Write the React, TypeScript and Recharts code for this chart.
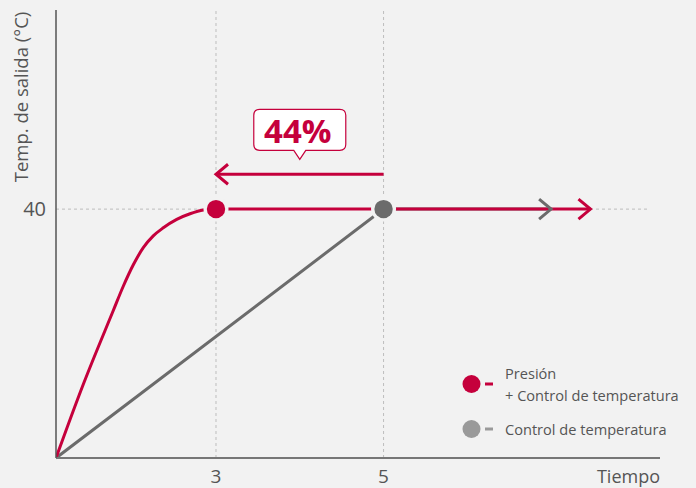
import React from 'react';
import { ComposedChart, Line, XAxis, YAxis, ReferenceLine, ReferenceDot, Label } from 'recharts';

// ejes
const tiempoTicks = [3, 5];
const tempTicks = [40];
const tiempoDomain = [1.09, 8.3];
const tempDomain = [0, 72];

// Presión + Control de temperatura
const presionT = [1.09, 1.416, 1.774, 1.893, 2.013, 2.132, 2.251, 2.371, 2.531, 2.69, 2.848, 3, 7.47];
const presionTemp = [0, 11.85, 23.7, 27.6, 31.05, 33.8, 35.7, 37.0, 38.35, 39.25, 39.85, 40, 40];

// Control de temperatura
const controlT = [1.09, 5, 7.0];
const controlTemp = [0, 40, 40];

// flecha de ahorro
const ahorroT = [5, 3];
const ahorroTemp = [45.6, 45.6];
const ahorroLabel = '44%';
const ahorroPos = { t: 4, temp: 48 };

const RED = '#c5003c';
const GRAY = '#6b6b6b';
const BG = '#f2f2f2';
const TEXT = '#555555';
const FONT = '"Open Sans", sans-serif';

const presionData = presionT.map((t, i) => ({ t, temp: presionTemp[i] }));
const presionDotIdx = presionT.indexOf(3);
const controlData = controlT.map((t, i) => ({ t, temp: controlTemp[i] }));
const controlDot = [{ t: controlT[1], temp: controlTemp[1] }];
const ahorroData = ahorroT.map((t, i) => ({ t, temp: ahorroTemp[i] }));

const bigDot = (cx: number, cy: number, fill: string, key: string) => (
  <g key={key}>
    <circle cx={cx} cy={cy} r={12.5} fill={BG} />
    <circle cx={cx} cy={cy} r={9.2} fill={fill} />
  </g>
);

const chevronRight = (cx: number, cy: number, stroke: string, key: string) => (
  <path key={key} d={`M${cx - 12},${cy - 10} L${cx},${cy} L${cx - 12},${cy + 10}`} fill="none" stroke={stroke} strokeWidth={3} />
);

const chevronLeft = (cx: number, cy: number, stroke: string, key: string) => (
  <path key={key} d={`M${cx + 12},${cy - 10} L${cx},${cy} L${cx + 12},${cy + 10}`} fill="none" stroke={stroke} strokeWidth={3} />
);

function Callout(props: any) {
  const { cx, cy } = props;
  const L = cx - 46, R = cx + 46, T = cy - 50, B = cy - 9, r = 6;
  const d = `M${L + r},${T} H${R - r} Q${R},${T} ${R},${T + r} V${B - r} Q${R},${B} ${R - r},${B} H${cx + 6} L${cx},${cy} L${cx - 6},${B} H${L + r} Q${L},${B} ${L},${B - r} V${T + r} Q${L},${T} ${L + r},${T} Z`;
  return (
    <g>
      <path d={d} fill="#ffffff" stroke={RED} strokeWidth={1.2} />
      <text x={cx - 2} y={cy - 16} textAnchor="middle" fill={RED} fontSize={33} fontWeight={700} fontFamily={FONT}>
        {ahorroLabel}
      </text>
    </g>
  );
}

export default function App() {
  return (
    <div style={{ position: 'fixed', left: 0, top: 0, width: 696, height: 488, background: BG, fontFamily: FONT }}>
      <ComposedChart width={696} height={488} margin={{ top: 10, right: 36, bottom: 0, left: 0 }}>
        <XAxis
          type="number"
          dataKey="t"
          domain={tiempoDomain}
          ticks={tiempoTicks}
          allowDataOverflow
          height={30}
          tickLine={false}
          axisLine={{ stroke: '#777777', strokeWidth: 2 }}
          tick={(p: any) => (
            <text x={p.x} y={483} textAnchor="middle" fill={TEXT} fontSize={19} fontFamily={FONT}>
              {p.payload.value}
            </text>
          )}
        >
          <Label
            content={(p: any) => (
              <text x={p.viewBox.x + p.viewBox.width} y={483} textAnchor="end" fill={TEXT} fontSize={18} fontFamily={FONT}>
                Tiempo
              </text>
            )}
          />
        </XAxis>
        <YAxis
          type="number"
          dataKey="temp"
          domain={tempDomain}
          ticks={tempTicks}
          width={56}
          tickLine={false}
          axisLine={{ stroke: '#555555', strokeWidth: 1.5 }}
          tick={(p: any) => (
            <text x={46} y={p.y + 7} textAnchor="end" fill={TEXT} fontSize={20} fontFamily={FONT}>
              {p.payload.value}
            </text>
          )}
        >
          <Label
            content={(p: any) => (
              <text
                x={p.viewBox.x + 28}
                y={97}
                transform={`rotate(-90, ${p.viewBox.x + 28}, 97)`}
                textAnchor="middle"
                fill={TEXT}
                fontSize={18.5}
                fontFamily={FONT}
              >
                Temp. de salida (°C)
              </text>
            )}
          />
        </YAxis>

        <ReferenceLine x={tiempoTicks[0]} stroke="#bdbdbd" strokeDasharray="3 3" />
        <ReferenceLine x={tiempoTicks[1]} stroke="#bdbdbd" strokeDasharray="3 3" />
        <ReferenceLine
          segment={[{ x: tiempoDomain[0], y: 40 }, { x: 8.18, y: 40 }]}
          stroke="#bdbdbd"
          strokeDasharray="3 3"
        />

        <Line
          data={controlData}
          dataKey="temp"
          type="linear"
          stroke={GRAY}
          strokeWidth={3}
          isAnimationActive={false}
          dot={(p: any) =>
            p.index === controlData.length - 1 ? chevronRight(p.cx, p.cy, GRAY, 'cg') : <g key={`cg${p.index}`} />
          }
          activeDot={false}
        />
        <Line
          data={presionData}
          dataKey="temp"
          type="monotone"
          stroke={RED}
          strokeWidth={3}
          isAnimationActive={false}
          dot={(p: any) => {
            if (p.index === presionDotIdx) return bigDot(p.cx, p.cy, RED, 'pd');
            if (p.index === presionData.length - 1) return chevronRight(p.cx, p.cy, RED, 'pc');
            return <g key={`pg${p.index}`} />;
          }}
          activeDot={false}
        />
        <Line
          data={controlDot}
          dataKey="temp"
          stroke={GRAY}
          isAnimationActive={false}
          dot={(p: any) => bigDot(p.cx, p.cy, GRAY, 'gd')}
          activeDot={false}
        />
        <Line
          data={ahorroData}
          dataKey="temp"
          type="linear"
          stroke={RED}
          strokeWidth={3}
          isAnimationActive={false}
          dot={(p: any) =>
            p.index === ahorroData.length - 1 ? chevronLeft(p.cx, p.cy, RED, 'ac') : <g key={`ag${p.index}`} />
          }
          activeDot={false}
        />
        <ReferenceDot x={ahorroPos.t} y={ahorroPos.temp} shape={Callout} />
      </ComposedChart>

      <div style={{ position: 'absolute', left: 462, top: 362, color: TEXT, fontSize: 14.6 }}>
        <div style={{ display: 'flex', alignItems: 'center' }}>
          <svg width={36} height={20} style={{ marginRight: 7 }}>
            <circle cx={9.5} cy={10} r={9} fill={RED} />
            <rect x={23} y={8.5} width={8} height={3} fill={RED} />
          </svg>
          <div style={{ lineHeight: '22px' }}>
            Presión
            <br />+ Control de temperatura
          </div>
        </div>
        <div style={{ display: 'flex', alignItems: 'center', marginTop: 12 }}>
          <svg width={36} height={20} style={{ marginRight: 7 }}>
            <circle cx={9.5} cy={10} r={9} fill="#9a9a9a" />
            <rect x={23} y={8.5} width={8} height={3} fill="#9a9a9a" />
          </svg>
          <div style={{ lineHeight: '22px' }}>Control de temperatura</div>
        </div>
      </div>
    </div>
  );
}
